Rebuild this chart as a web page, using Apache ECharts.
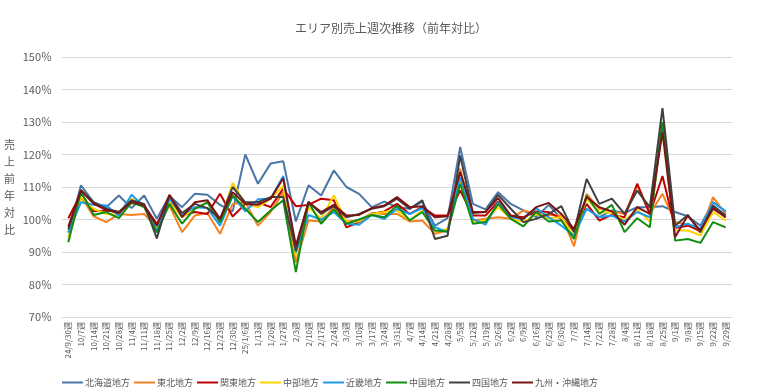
<!DOCTYPE html>
<html><head><meta charset="utf-8">
<script src="https://cdn.jsdelivr.net/npm/echarts@6/dist/echarts.min.js"></script>
<style>html,body{margin:0;padding:0;background:#fff}#c{width:782px;height:392px}</style>
</head><body><div id="c"></div>
<script>
const categories = ['24/9/30週','10/7週','10/14週','10/21週','10/28週','11/4週','11/11週','11/18週','11/25週','12/2週','12/9週','12/16週','12/23週','12/30週','25/1/6週','1/13週','1/20週','1/27週','2/3週','2/10週','2/17週','2/24週','3/3週','3/10週','3/17週','3/24週','3/31週','4/7週','4/14週','4/21週','4/28週','5/5週','5/12週','5/19週','5/26週','6/2週','6/9週','6/16週','6/23週','6/30週','7/7週','7/14週','7/21週','7/28週','8/4週','8/11週','8/18週','8/25週','9/1週','9/8週','9/15週','9/22週','9/29週'];
const seriesNames = ['北海道地方','東北地方','関東地方','中部地方','近畿地方','中国地方','四国地方','九州・沖縄地方'];
const hokkaido = [96,110.5,105.3,103.8,107.4,103.5,107.4,100.2,107.2,103.8,107.9,107.6,104.5,102.5,120,111,117.2,117.9,99.4,110.5,107.4,115.1,110,107.9,103.8,105.5,103.8,103.3,105.5,98.1,100.4,122.3,104.8,103.1,108.4,104.8,102.8,100.7,104.5,100.2,96.6,103.3,100.7,102.8,102,103.8,103.8,104.1,102.3,101,98.1,105.3,102.5];
const tohoku = [94.5,107,101,99.2,101.7,101.4,101.7,97.6,104.3,96.1,101.2,102,95.6,104.8,105.3,98.1,102.3,108.4,86.8,99.7,99.4,103.8,99.4,99.7,102,101.7,101.7,99.4,99.7,95.6,96.6,115.6,99.7,100.2,100.7,100.2,102.8,101.7,101.4,101.2,91.8,107.9,103.3,102.5,101.7,110.5,101.7,107.9,99.2,98.4,96.1,106.9,101.7];
const kanto = [100.4,108,102.5,102.8,102.3,105.1,104.3,98.7,105.3,101.2,102.3,101.7,107.9,100.9,104.8,105.3,103.8,109.5,104.1,104.5,106.4,105.9,97.6,99.2,101.7,102.5,104.8,101.7,103.8,101.2,101.2,108.9,101.2,101.2,105.5,101.2,100.7,102.5,102.3,100.2,96.6,104.8,99.7,101.4,100.7,111,101.7,113.4,97.4,98.1,96.6,103.8,100.7];
const chubu = [94,107,103.3,101.7,101.4,106.4,104,97.1,105.3,100.7,103.3,105.3,99.2,111.3,104.8,103.8,106.4,110.3,88.9,103.8,100.2,107.4,99.2,99.4,101.7,102.3,102.8,99.7,102.8,96.3,97.1,112,99.2,99.7,103.8,100.2,99.2,101.7,100.4,100.7,95.1,106.4,102.3,102.1,99.7,103.1,99.4,129,96.6,96.6,95.1,102.3,99.7];
const kinki = [96,105.3,104.5,104.3,101.2,107.6,104,96.6,106.4,101.4,103.8,103.5,98.1,107.2,102.5,106.2,106.4,113.4,89.9,101.4,100,102.3,98.7,98.4,101.4,100.2,103.3,101.7,103.5,97.6,96.1,113,100.2,98.4,105.3,100.7,100.2,103.5,100.7,98.1,95.1,103.3,100.7,101.2,99.4,102.3,100.7,130,97.6,98.7,97.1,105.3,102.5];
const chugoku = [93,108.5,101.4,102.3,100.4,105.3,103.8,96,104.8,98.7,103.3,105.3,99.2,107.4,103.3,99.2,102.8,105.9,83.8,105.3,98.7,103.1,98.7,100,101.4,100.7,104.3,99.7,102.3,96.6,96.3,111,98.7,99.2,104.8,100.2,97.9,102.3,99.4,99.7,94,107.4,101.7,104.5,96.1,100.4,97.6,130,93.5,94,92.8,99.2,97.6];
const shikoku = [97,109,105.3,103.3,102.3,105.9,104.8,94.2,107.4,102,104.8,103.5,100.2,110,105.3,105.3,106.9,106.9,90.4,105.5,101.7,104.1,100.7,101.7,103.3,104.1,106.4,103.3,105.9,94,95,119.7,102,102.3,107.6,103.3,99.2,100.2,101.7,104.1,96.1,112.5,104.8,106.4,101.7,108.9,103.8,134.3,98.1,101.4,96.1,104.3,101.2];
const kyushu = [97.8,109,104.8,103,102,105.5,104.3,98.1,107.6,100.7,105.3,105.9,100.2,108.4,104.8,104.5,106.4,112.7,92,105.3,102.3,104.5,101.2,101.4,103.5,104.3,106.9,103.8,104.1,100.7,101,114.6,102.3,102.3,106.6,101.2,100.2,103.8,105.1,101.7,97.1,106.9,103.8,102.5,98.4,103.8,101.7,126.9,94.6,101.2,96.6,103.3,100.7];
const seriesData = [hokkaido, tohoku, kanto, chubu, kinki, chugoku, shikoku, kyushu];
const colors = ['#4A76A8','#F58220','#C00000','#FFD400','#1A9BEF','#108C10','#404040','#7A1414'];
const yTicks = {min: 70, max: 150, interval: 10};

const FONT = '"Noto Sans CJK JP", "Noto Sans", sans-serif';
const chart = echarts.init(document.getElementById('c'), null, {renderer: 'canvas'});
chart.setOption({
  animation: false,
  color: colors,
  textStyle: {fontFamily: FONT},
  title: {
    text: 'エリア別売上週次推移（前年対比）',
    left: 'center', top: 17,
    textStyle: {fontSize: 12, fontWeight: 'normal', color: '#595959', fontFamily: FONT}
  },
  grid: {left: 62, right: 50, top: 57, height: 260, containLabel: false},
  xAxis: {
    type: 'category', data: categories, boundaryGap: true,
    axisLine: {show: true, lineStyle: {color: '#d9d9d9'}},
    axisTick: {show: false},
    axisLabel: {interval: 0, rotate: 90, fontSize: 8, color: '#595959', margin: 5, fontFamily: FONT}
  },
  yAxis: {
    type: 'value', min: yTicks.min, max: yTicks.max, interval: yTicks.interval,
    axisLine: {show: false}, axisTick: {show: false},
    splitLine: {lineStyle: {color: '#d9d9d9', width: 1}},
    axisLabel: {formatter: '{value}％', fontSize: 11, color: '#595959', margin: 10, fontFamily: FONT}
  },
  legend: {
    data: seriesNames, left: 57, top: 373, icon: 'rect', itemWidth: 21, itemHeight: 2,
    itemGap: 4,
    textStyle: {fontSize: 9, color: '#595959', width: 60, fontFamily: FONT, padding: [0,0,0,-3]}
  },
  graphic: [{
    type: 'text', left: 4, top: 136,
    style: {text: '売\n上\n前\n年\n対\n比', fontSize: 11, lineHeight: 17, fill: '#595959', fontFamily: FONT}
  }],
  series: seriesNames.map((n, i) => ({
    name: n, type: 'line', data: seriesData[i], symbol: 'none',
    lineStyle: {width: 2, color: colors[i]}, itemStyle: {color: colors[i]}
  }))
});
</script></body></html>
